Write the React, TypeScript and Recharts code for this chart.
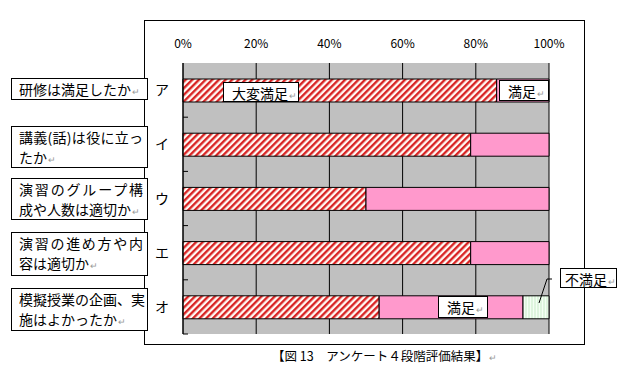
import React from "react";
import { BarChart, Bar, XAxis, YAxis, CartesianGrid } from "recharts";

// questionnaire items (4-level evaluation), values in %
const categories = ["ア", "イ", "ウ", "エ", "オ"];
const veryGood = [85.7, 78.6, 50, 78.6, 53.6];
const good = [14.3, 21.4, 50, 21.4, 39.3];
const notGood = [0, 0, 0, 0, 7.1];
const xTicks = [0, 20, 40, 60, 80, 100];

const questions = [
  ["研修は満足したか"],
  ["講義(話)は役に立っ", "たか"],
  ["演習のグループ構", "成や人数は適切か"],
  ["演習の進め方や内", "容は適切か"],
  ["模擬授業の企画、実", "施はよかったか"],
];

const data = categories.map((c, i) => ({ cat: c, veryGood: veryGood[i], good: good[i], notGood: notGood[i] }));

const JP = "'Noto Sans CJK JP', 'Noto Sans', sans-serif";
const ret = <span style={{ color: "#999", fontSize: 9, marginLeft: 1 }}>↵</span>;

const YTick = (props: any) => {
  const { x, y, payload } = props;
  const off = payload?.offset ?? 0;
  return (
    <g>
      <text x={x - 21} y={y} dy={5} textAnchor="middle" fontSize={14} fontFamily={JP} fill="#000">{payload.value}</text>
      <line x1={x} x2={x + 5} y1={y + off} y2={y + off} stroke="#000" />
    </g>
  );
};

// boxes on the left, [top, height]
const qBoxes = [[78, 22], [126, 42], [178, 42], [232, 44], [288, 43]];

function TextBox({ left, top, width, height, children, lines }: any) {
  return (
    <div style={{ position: "absolute", left, top, width, height, boxSizing: "border-box", border: "1px solid #000", background: "#fff", fontFamily: JP, fontSize: 14, lineHeight: "20px", padding: lines ? "0 5px 0 7px" : "0 4px", color: "#000", whiteSpace: "nowrap" }}>
      {children}
    </div>
  );
}

export default function App() {
  return (
    <div style={{ position: "absolute", left: 0, top: 0, width: 630, height: 378, background: "#fff" }}>
      <div style={{ position: "absolute", left: 144, top: 20, width: 441, height: 325, boxSizing: "border-box", border: "1px solid #000" }} />
      <div style={{ position: "absolute", left: 144, top: 20 }}>
        <BarChart width={440} height={324} data={data} layout="vertical" margin={{ top: 0, right: 35, bottom: 10, left: 0 }}>
          <defs>
            <pattern id="hatch" width={4.7} height={4.7} patternUnits="userSpaceOnUse" patternTransform="rotate(45)">
              <rect width={4.7} height={4.7} fill="#fffaf5" />
              <line x1={1.2} y1={0} x2={1.2} y2={4.7} stroke="#d81e1e" strokeWidth={2.3} />
            </pattern>
            <pattern id="vlines" width={3} height={3} patternUnits="userSpaceOnUse">
              <rect width={3} height={3} fill="#f4fff4" />
              <line x1={1} y1={0} x2={1} y2={3} stroke="#c8ecc8" strokeWidth={1} />
            </pattern>
          </defs>
          <CartesianGrid horizontal={false} stroke="#000" fill="#c0c0c0" fillOpacity={1} />
          <XAxis type="number" orientation="top" domain={[0, 100]} ticks={xTicks} tickFormatter={(v) => `${v}%`} height={43}
            axisLine={false} tickLine={false} tickSize={0} tickMargin={15} tick={{ fontSize: 12, fill: "#000", fontFamily: JP }} />
          <YAxis type="category" dataKey="cat" width={39} axisLine={{ stroke: "#000" }} tickLine={false} tickSize={0} tickMargin={0} tick={<YTick />} />
          <Bar dataKey="veryGood" stackId="s" barSize={23} fill="url(#hatch)" stroke="#000" strokeWidth={1} isAnimationActive={false} />
          <Bar dataKey="good" stackId="s" barSize={23} fill="#ff99cc" stroke="#000" strokeWidth={1} isAnimationActive={false} />
          <Bar dataKey="notGood" stackId="s" barSize={23} fill="url(#vlines)" stroke="#000" strokeWidth={1} isAnimationActive={false} />
        </BarChart>
      </div>

      {questions.map((q, i) => (
        <TextBox key={i} left={11} top={qBoxes[i][0]} width={137} height={qBoxes[i][1]} lines>
          {q.map((line, j) => (
            <div key={j} style={j < q.length - 1 ? { textAlign: "justify", textAlignLast: "justify", width: 124 } : {}}>
              {line}{j === q.length - 1 ? ret : null}
            </div>
          ))}
        </TextBox>
      ))}

      {/* annotations inside the bars */}
      <TextBox left={223} top={82} width={76} height={20}><span style={{ lineHeight: "18px", paddingLeft: 4 }}>大変満足</span>{ret}</TextBox>
      <TextBox left={499} top={80} width={50} height={21}><span style={{ paddingLeft: 4 }}>満足</span>{ret}</TextBox>
      <TextBox left={438} top={296} width={50} height={22}><span style={{ paddingLeft: 4 }}>満足</span>{ret}</TextBox>
      <TextBox left={560} top={268} width={57} height={20}><span style={{ lineHeight: "18px" }}>不満足</span>{ret}</TextBox>
      <svg style={{ position: "absolute", left: 0, top: 0, overflow: "visible" }} width={630} height={378}>
        <polyline points="552,279 547,279 539,303" fill="none" stroke="#000" strokeWidth={1} />
      </svg>

      <div style={{ position: "absolute", left: 272, top: 348, fontFamily: JP, fontSize: 12.5, lineHeight: "16px", color: "#000", whiteSpace: "nowrap" }}>
        【図 13　アンケート４段階評価結果】{ret}
      </div>
    </div>
  );
}
